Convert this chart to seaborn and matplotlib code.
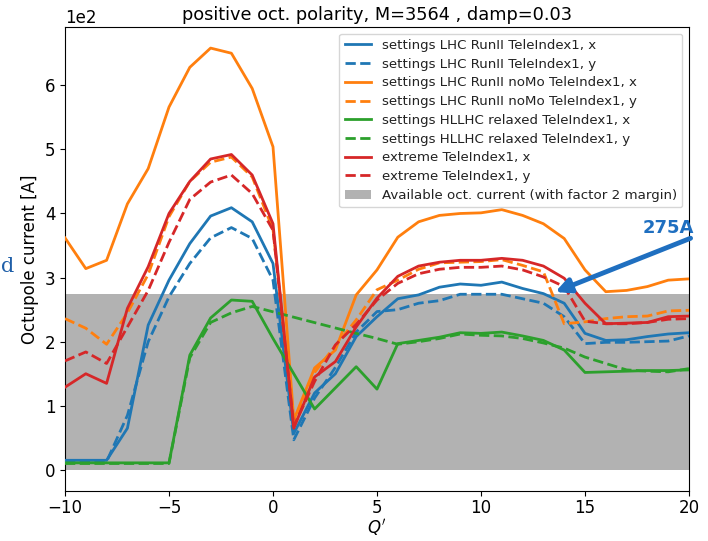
import matplotlib
matplotlib.use("Agg")
import matplotlib.pyplot as plt
import seaborn as sns
import numpy as np
import pandas as pd

# ---- data (Octupole current in A vs Q') ----
q_full = list(range(-10, 21))

runII_x = [15, 15, 15, 65, 226, 296, 353, 396, 409, 387, 322, 57, 120, 150, 208, 239,
           267, 273, 285, 290, 288, 293, 283, 275, 260, 213, 202, 203, 208, 212, 214]
runII_y = [13, 13, 13, 85, 200, 270, 322, 362, 378, 361, 296, 47, 112, 160, 215, 247,
           250, 260, 264, 274, 274, 274, 267, 260, 239, 197, 199, 199, 200, 201, 209]
noMo_x = [362, 314, 327, 415, 470, 566, 628, 658, 650, 595, 504, 78, 159, 187, 273, 312,
          363, 387, 397, 400, 401, 406, 397, 384, 361, 312, 278, 280, 286, 296, 298]
noMo_y = [236, 221, 196, 245, 305, 395, 450, 480, 488, 457, 375, 72, 152, 194, 234, 281,
          296, 313, 323, 324, 325, 328, 319, 309, 228, 231, 236, 239, 240, 248, 249]
hllhc_x = [11, 11, 11, 11, 11, 11, 179, 237, 265, 263, 205, 150, 95, 128, 161, 126,
           197, 202, 207, 214, 213, 215, 209, 202, 187, 152, 153, 154, 155, 155, 156]
q_hllhc_y = [-10, -9, -8, -7, -6, -5, -4, -3, -2, -1, 4, 5, 6, 7, 8, 9, 10, 11, 12,
             13, 14, 15, 16, 17, 18, 19, 20]
hllhc_y = [10, 10, 10, 10, 10, 10, 175, 230, 245, 255, 213, 205, 196, 200, 205, 212,
           210, 209, 205, 198, 190, 176, 166, 156, 154, 153, 158]
extreme_x = [129, 150, 135, 252, 317, 400, 450, 485, 492, 460, 384, 65, 145, 169, 223, 268,
             302, 318, 324, 327, 327, 330, 327, 318, 299, 260, 228, 229, 230, 239, 240]
extreme_y = [170, 184, 166, 223, 280, 355, 422, 449, 460, 431, 374, 68, 138, 195, 227, 265,
             291, 306, 313, 316, 316, 318, 312, 301, 286, 232, 228, 228, 230, 235, 236]

labels = ["settings LHC RunII TeleIndex1, x", "settings LHC RunII TeleIndex1, y",
          "settings LHC RunII noMo TeleIndex1, x", "settings LHC RunII noMo TeleIndex1, y",
          "settings HLLHC relaxed TeleIndex1, x", "settings HLLHC relaxed TeleIndex1, y",
          "extreme TeleIndex1, x", "extreme TeleIndex1, y"]
band_label = "Available oct. current (with factor 2 margin)"
band_top = 275
title = "positive oct. polarity, M=3564 , damp=0.03"

series = [
    (q_full, runII_x, "#1f77b4", "-"),
    (q_full, runII_y, "#1f77b4", "--"),
    (q_full, noMo_x, "#ff7f0e", "-"),
    (q_full, noMo_y, "#ff7f0e", "--"),
    (q_full, hllhc_x, "#2ca02c", "-"),
    (q_hllhc_y, hllhc_y, "#2ca02c", "--"),
    (q_full, extreme_x, "#d62728", "-"),
    (q_full, extreme_y, "#d62728", "--"),
]

fig = plt.figure(figsize=(7.08, 5.41), dpi=100)
ax = fig.add_axes([65/708, 1-491/541, (689-65)/708, (491-27)/541])

ax.axhspan(0, band_top, color="gray", alpha=0.6, lw=0, label=band_label, zorder=1)

for (qq, vals, col, ls), lab in zip(series, labels):
    df = pd.DataFrame({"Q": qq, "I": vals})
    sns.lineplot(data=df, x="Q", y="I", ax=ax, color=col, linestyle=ls, lw=2.0,
                 label=lab, sort=False, estimator=None, zorder=3)

ax.set_xlim(-10, 20)
ax.ticklabel_format(axis="y", style="sci", scilimits=(0, 0))
ax.yaxis.get_offset_text().set_fontsize(12)
ax.tick_params(labelsize=12)
ax.tick_params(axis="x", pad=2.5)
ax.set_xlabel("$Q'$", fontsize=12, labelpad=0)
ax.set_ylabel("Octupole current [A]", fontsize=12)
ax.set_title(title, fontsize=12.8, pad=5)

h, l = ax.get_legend_handles_labels()
order = [l.index(x) for x in labels] + [l.index(band_label)]
leg = ax.legend([h[i] for i in order], [l[i] for i in order], loc="upper right",
                fontsize=9.6, labelspacing=0.43, handlelength=2.0, borderaxespad=0.5)
for t in leg.get_texts():
    t.set_color("#222222")

# annotation arrow
ax.annotate("", xy=(13.45, 276), xytext=(20.2, 363),
            arrowprops=dict(arrowstyle="-|>", lw=3.5, color="#1f6fc0", mutation_scale=22),
            annotation_clip=False, zorder=5)
ax.text(19.0, 377, "275A", color="#1f6fc0", fontsize=13, fontweight="bold",
        ha="center", va="center", zorder=5)

fig.text(0.001, 1-266/541, "d", color="#1f5fa8", fontsize=15, family="DejaVu Serif",
         ha="left", va="center")

fig.savefig("out.png", dpi=100)
